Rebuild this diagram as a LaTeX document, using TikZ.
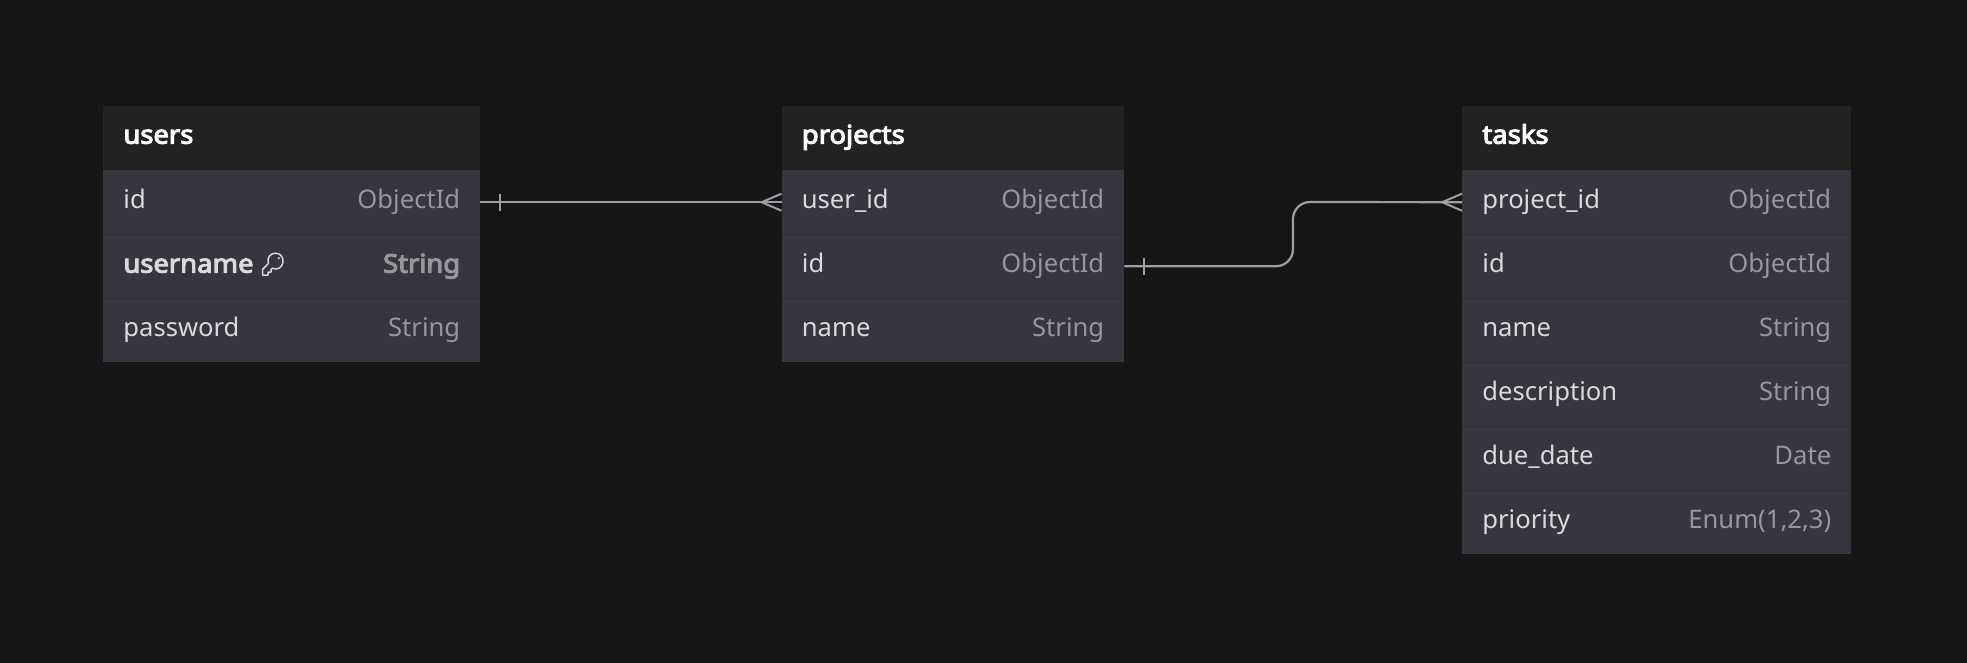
\documentclass[tikz,border=0pt]{standalone}
\usepackage{fontspec}
\setmainfont{Noto Sans}[BoldFont={Noto Sans},BoldFeatures={FakeBold=4,FakeStretch=1.07}]
\definecolor{pagebg}{HTML}{161616}
\definecolor{headbg}{HTML}{222222}
\definecolor{rowbg}{HTML}{35363E}
\definecolor{sepcol}{HTML}{2E2F35}
\definecolor{namecol}{HTML}{DADADC}
\definecolor{typecol}{HTML}{97979B}
\definecolor{linecol}{HTML}{9E9EA4}
\newcommand{\tsize}{\fontsize{25.6}{30}\selectfont}
\tikzset{
  x=1pt,y=-1pt,
  headbox/.style={fill=headbg,draw=none,inner sep=0pt,anchor=north west,minimum height=64pt},
  rowbox/.style={fill=rowbg,draw=none,inner sep=0pt,anchor=north west,minimum height=64pt},
  headtxt/.style={anchor=base west,inner sep=0pt,text=white,font=\tsize\bfseries},
  nametxt/.style={anchor=base west,inner sep=0pt,text=namecol,font=\tsize},
  typetxt/.style={anchor=base east,inner sep=0pt,text=typecol,font=\tsize},
  sep/.style={draw=sepcol,line width=1pt},
  conn/.style={draw=linecol,line width=2.2pt},
  tickmark/.style={draw=linecol,line width=2pt},
  keyicon/.style={draw=namecol,line width=1.5pt,line join=round},
}
\newcommand{\ermrow}[7]{%
  \node[rowbox,minimum width=#4pt] (#1-#2) at (#3,#5) {};
  \node[nametxt] (#1-#2-n) at ([xshift=20.2pt,yshift=-38.6pt]#1-#2.north west) {#6};
  \node[typetxt] (#1-#2-t) at ([xshift=-20pt,yshift=-38.6pt]#1-#2.north east) {#7};
}
\newcommand{\ermhead}[4]{%
  \node[headbox,minimum width=#4pt] (#1-head) at (#3,106) {};
  \node[headtxt] (#1-title) at ([xshift=20.2pt,yshift=-37.6pt]#1-head.north west) {#2};
}
\begin{document}
\begin{tikzpicture}
\useasboundingbox[fill=pagebg] (0,0) rectangle (1967,663);
% users
\ermhead{users}{users}{103}{377}
\ermrow{users}{id}{103}{377}{170}{id}{ObjectId}
\ermrow{users}{username}{103}{377}{234}{\bfseries username}{\bfseries String}
\ermrow{users}{password}{103}{377}{298}{password}{String}
\draw[sep] (users-username.north west) -- (users-username.north east);
\draw[sep] (users-password.north west) -- (users-password.north east);
% projects
\ermhead{projects}{projects}{781.5}{342.5}
\ermrow{projects}{userid}{781.5}{342.5}{170}{user\_id}{ObjectId}
\ermrow{projects}{id}{781.5}{342.5}{234}{id}{ObjectId}
\ermrow{projects}{name}{781.5}{342.5}{298}{name}{String}
\draw[sep] (projects-id.north west) -- (projects-id.north east);
\draw[sep] (projects-name.north west) -- (projects-name.north east);
% tasks
\ermhead{tasks}{tasks}{1462}{389}
\ermrow{tasks}{projectid}{1462}{389}{170}{project\_id}{ObjectId}
\ermrow{tasks}{id}{1462}{389}{234}{id}{ObjectId}
\ermrow{tasks}{name}{1462}{389}{298}{name}{String}
\ermrow{tasks}{description}{1462}{389}{362}{description}{String}
\ermrow{tasks}{duedate}{1462}{389}{426}{due\_date}{Date}
\ermrow{tasks}{priority}{1462}{389}{490}{priority}{Enum(1,2,3)}
\foreach \r in {id,name,description,duedate,priority}
  \draw[sep] (tasks-\r.north west) -- (tasks-\r.north east);
% key icon
\draw[keyicon] (268.4,263.5) -- (262.5,269.5) -- (262.5,275) -- (268,275) -- (268,272) -- (271,272) -- (271,269.5) -- (272.5,268.2)
  .. controls (273.5,268.8) and (274.5,269) .. (275.5,269)
  .. controls (280,269) and (283,265.5) .. (283,261)
  .. controls (283,256.5) and (280,253.2) .. (275.5,253.2)
  .. controls (270.5,253.2) and (266.5,257.5) .. (268.4,263.5);
\fill[namecol] (278.8,258.2) circle[radius=1.2pt];
% connectors
\draw[conn] (users-id.east) -- (projects-userid.west);
\draw[tickmark] ([xshift=20pt,yshift=-8.5pt]users-id.east) -- ([xshift=20pt,yshift=8.5pt]users-id.east);
\draw[tickmark] ([xshift=-20pt]projects-userid.west) -- ([yshift=-8.5pt]projects-userid.west);
\draw[tickmark] ([xshift=-20pt]projects-userid.west) -- ([yshift=8.5pt]projects-userid.west);
\draw[conn,rounded corners=17pt] (projects-id.east) -| (1293,202) -- (tasks-projectid.west);
\draw[tickmark] ([xshift=20pt,yshift=-8.5pt]projects-id.east) -- ([xshift=20pt,yshift=8.5pt]projects-id.east);
\draw[tickmark] ([xshift=-20pt]tasks-projectid.west) -- ([yshift=-8.5pt]tasks-projectid.west);
\draw[tickmark] ([xshift=-20pt]tasks-projectid.west) -- ([yshift=8.5pt]tasks-projectid.west);
\end{tikzpicture}
\end{document}
